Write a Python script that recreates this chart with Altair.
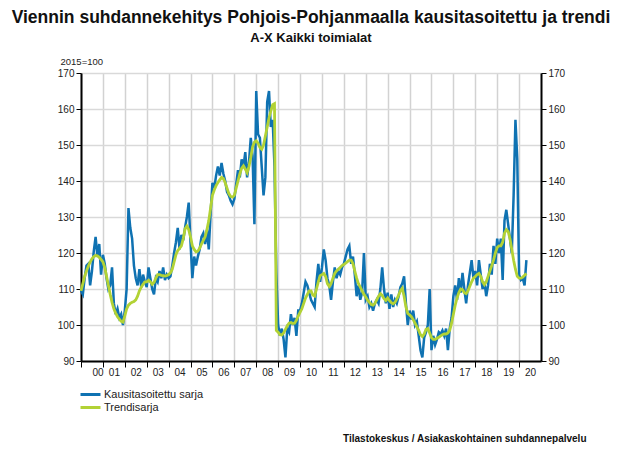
import altair as alt
import pandas as pd

SARJA_1 = "Kausitasoitettu sarja"
SARJA_2 = "Trendisarja"

# monthly values, 2000-01 ... 2020-05 (one row per year)
kausitasoitettu = [
    109.5, 108.5, 113, 116.5, 117, 111, 115, 120.5, 124.5, 119, 122.5, 114,      # 2000
    119.5, 117, 113, 110, 111, 116, 106, 103, 104.5, 102, 103, 100,              # 2001
    104, 110, 132.5, 127, 124, 116.5, 113, 111, 115.5, 110.5, 114, 112,          # 2002
    110.5, 116, 113, 110, 108.5, 113, 112, 115, 113, 116, 112.5, 114,            # 2003
    113, 113.5, 116.5, 120, 123, 127, 121, 125, 123.5, 127, 130, 134,            # 2004
    123, 113, 119, 116.5, 119, 121, 124.5, 125.5, 122.5, 126.5, 121, 131,        # 2005
    139.5, 138, 141.5, 144, 141.5, 145, 142, 140, 137, 136, 134.5, 133.5,        # 2006
    135, 139, 143, 141, 146, 144, 148, 141, 145, 152, 147, 128,                  # 2007
    165, 153, 152, 144, 136, 141, 162, 165, 155, 157, 144, 115,                  # 2008
    100, 97, 99, 96, 91, 99, 98, 103, 100, 102, 97, 104,                         # 2009
    104, 106, 109, 112, 111, 109, 107, 106, 105, 112, 117, 112,                  # 2010
    116, 121, 118, 113, 111, 107, 112, 116, 113, 115, 114, 116,                  # 2011
    117, 119, 121, 122, 117, 119, 114, 108, 111, 107, 109, 120,                  # 2012
    107, 108, 105, 106, 104, 106, 107, 106, 110, 116, 110, 106,                  # 2013
    109, 104.5, 108.5, 105, 107, 106, 108, 110.5, 111.5, 113.5, 106, 100,        # 2014
    104, 101.5, 104, 100, 101, 97, 93, 91, 96.5, 98, 100, 110,                   # 2015
    93, 97, 94.5, 96, 98, 97.5, 98.5, 97, 99, 93, 99, 102,                       # 2016
    108, 111, 107, 113, 109, 114.5, 110, 106, 111, 114.5, 118, 113,              # 2017
    115, 111, 118, 114, 110, 112, 108, 111, 117, 114, 122, 117,                  # 2018
    124, 120, 124, 112.5, 129, 132, 128, 124, 120, 136, 157, 146,                # 2019
    114, 112.5, 113, 111, 118,                                                   # 2020
]

trendi = [
    109.5, 111.5, 113.5, 115, 116.3, 117.5, 118.4, 119, 119.3, 119.2, 118.8, 118.2,  # 2000
    117.5, 116, 113.5, 111, 108.5, 106.3, 104.5, 103.3, 102.3, 101.6, 101, 100.8,    # 2001
    102.5, 104.5, 105.5, 106, 106.3, 106.5, 107, 108, 109.5, 110.5, 111.3, 112,      # 2002
    112, 112.4, 112, 111.3, 111.8, 113, 114, 114, 113.8, 113.7, 113.6, 113.7,        # 2003
    114, 114.5, 115.5, 117.5, 119.5, 120.7, 121.3, 122, 124, 126.7, 127.5, 126.5,    # 2004
    124.5, 122, 121, 120.3, 120.5, 121.3, 122.5, 123.5, 124.5, 126.5, 129, 132.5,    # 2005
    136, 137.5, 138.7, 139.6, 140.3, 141, 140.7, 139.5, 138, 136.5, 135.7, 135.5,    # 2006
    136, 138, 140, 142, 143.5, 144.2, 143.3, 142.3, 144, 146.5, 149.5, 150.8,        # 2007
    151.2, 150.5, 149.3, 148.8, 150, 152.5, 155, 157.5, 159.5, 161.2, 161.5, 98.5,   # 2008
    98, 97.3, 97.2, 97.8, 98.8, 99.8, 100.5, 100.7, 100.4, 100.5, 101.3, 102.5,      # 2009
    103.5, 104.5, 106, 107.5, 108.5, 109.5, 109.5, 108.3, 108, 110, 112, 113.7,      # 2010
    114, 114.3, 113.5, 111.5, 110.7, 111.5, 113, 114.3, 115, 115.5, 116, 116.5,      # 2011
    116.8, 117.2, 117.6, 118, 118, 117, 115, 113, 111.5, 110.5, 109.5, 108.5,        # 2012
    107.8, 106.9, 106.3, 105.7, 105.5, 106, 107, 108, 108.7, 108.2, 107.3, 106.8,    # 2013
    107.5, 106.8, 106.2, 105.9, 106.3, 107.2, 108.3, 109.5, 110.2, 108, 105, 103.2,  # 2014
    102.8, 102.3, 101.5, 100.5, 99.5, 98.5, 97.3, 96.8, 97.5, 98.8, 99, 97.8,        # 2015
    96.5, 96, 96, 96.3, 96.6, 97, 97.3, 97.5, 97.5, 97.8, 98.5, 100.5,               # 2016
    103, 105.5, 107.5, 109, 110, 109.8, 109, 108.7, 109.5, 110.8, 112, 113,          # 2017
    113.5, 114, 114.3, 113.5, 112, 111.2, 112, 113.5, 115, 116.5, 118, 120,          # 2018
    121.5, 122, 122, 123, 125.5, 126.5, 126, 124, 121, 118, 115.5, 113.5,           # 2019
    113, 113, 113.3, 113.8, 114.3,                                                   # 2020
]

vuodet = list(range(2000, 2021))          # x tick labels 00 ... 20
y_ticks = list(range(90, 171, 10))

BLUE = "#0f72b2"
GREEN = "#b2d235"
FONT = "Liberation Sans"

n = len(kausitasoitettu)
t = [2000 + i / 12 for i in range(n)]
df = pd.DataFrame({
    "t": t + t,
    "arvo": kausitasoitettu + trendi,
    "sarja": [SARJA_1] * n + [SARJA_2] * n,
})

x_enc = alt.X(
    "t:Q",
    scale=alt.Scale(domain=[2000, 2021], nice=False, zero=False),
    axis=alt.Axis(
        values=vuodet,
        labelExpr="substring(toString(datum.value), 2, 4)",
        labelOffset=11,
        labelPadding=0,
        labelFontSize=10,
        labelFont=FONT,
        labelColor="#222",
        tickSize=6,
        tickColor="#000",
        tickWidth=1,
        domainColor="#000",
        domainWidth=2,
        grid=True,
        gridColor="#d2d2d2",
        gridWidth=1.5,
        title="Tilastokeskus / Asiakaskohtainen suhdannepalvelu",
        titleX=505,
        titleY=80,
        titleAlign="right",
        titleAnchor="end",
        titleBaseline="alphabetic",
        titleFont=FONT,
        titleFontSize=10,
        titleFontWeight="bold",
        titleColor="#111",
    ),
)

y_scale = alt.Scale(domain=[90, 170], nice=False, zero=False)

color_enc = alt.Color(
    "sarja:N",
    scale=alt.Scale(domain=[SARJA_1, SARJA_2], range=[BLUE, GREEN]),
    legend=alt.Legend(
        title=None,
        orient="none",
        legendX=3,
        legendY=315,
        direction="vertical",
        symbolType="M-2,0H2",
        symbolStrokeWidth=3,
        symbolSize=100,
        labelFont=FONT,
        labelFontSize=11,
        labelColor="#222",
        labelOffset=7,
        rowPadding=0,
    ),
)

blue = alt.Chart(df).transform_filter(
    alt.datum.sarja == SARJA_1
).mark_line(strokeWidth=2.5).encode(
    x=x_enc,
    y=alt.Y(
        "arvo:Q",
        scale=y_scale,
        axis=alt.Axis(
            values=y_ticks,
            orient="left",
            labelFont=FONT,
            labelFontSize=10,
            labelColor="#222",
            tickSize=5,
            tickColor="#000",
            domainColor="#000",
            domainWidth=2,
            grid=True,
            gridColor="#d9d9d9",
            gridWidth=1.5,
            title="2015=100",
            titleAngle=0,
            titleX=-21,
            titleY=-7,
            titleAlign="left",
            titleBaseline="bottom",
            titleFont=FONT,
            titleFontSize=9.5,
            titleFontWeight="normal",
            titleColor="#222",
        ),
    ),
    color=color_enc,
)

green = alt.Chart(df).transform_filter(
    alt.datum.sarja == SARJA_2
).mark_line(strokeWidth=2.8).encode(
    x=x_enc,
    y=alt.Y(
        "arvo:Q",
        scale=y_scale,
        axis=alt.Axis(
            values=y_ticks,
            orient="right",
            labelFont=FONT,
            labelFontSize=10,
            labelColor="#222",
            tickSize=5,
            tickColor="#000",
            domainColor="#000",
            domainWidth=2,
            grid=False,
            title="",
        ),
    ),
    color=color_enc,
)

chart = alt.layer(blue, green).resolve_scale(y="independent").properties(
    width=460,
    height=288,
    autosize=alt.AutoSizeParams(type="none"),
    padding={"left": 73, "top": 65, "right": 74, "bottom": 86},
    title=alt.TitleParams(
        text="Viennin suhdannekehitys Pohjois-Pohjanmaalla kausitasoitettu ja trendi",
        subtitle="A-X Kaikki toimialat",
        font=FONT,
        fontSize=17.5,
        fontWeight="bold",
        color="#111",
        subtitleFont=FONT,
        subtitleFontSize=13,
        subtitleFontWeight="bold",
        subtitleColor="#111",
        subtitlePadding=6,
        anchor="middle",
        offset=11,
    ),
).configure_view(stroke=None)

chart.save("out.html", embed_options={"renderer": "svg", "actions": False})
